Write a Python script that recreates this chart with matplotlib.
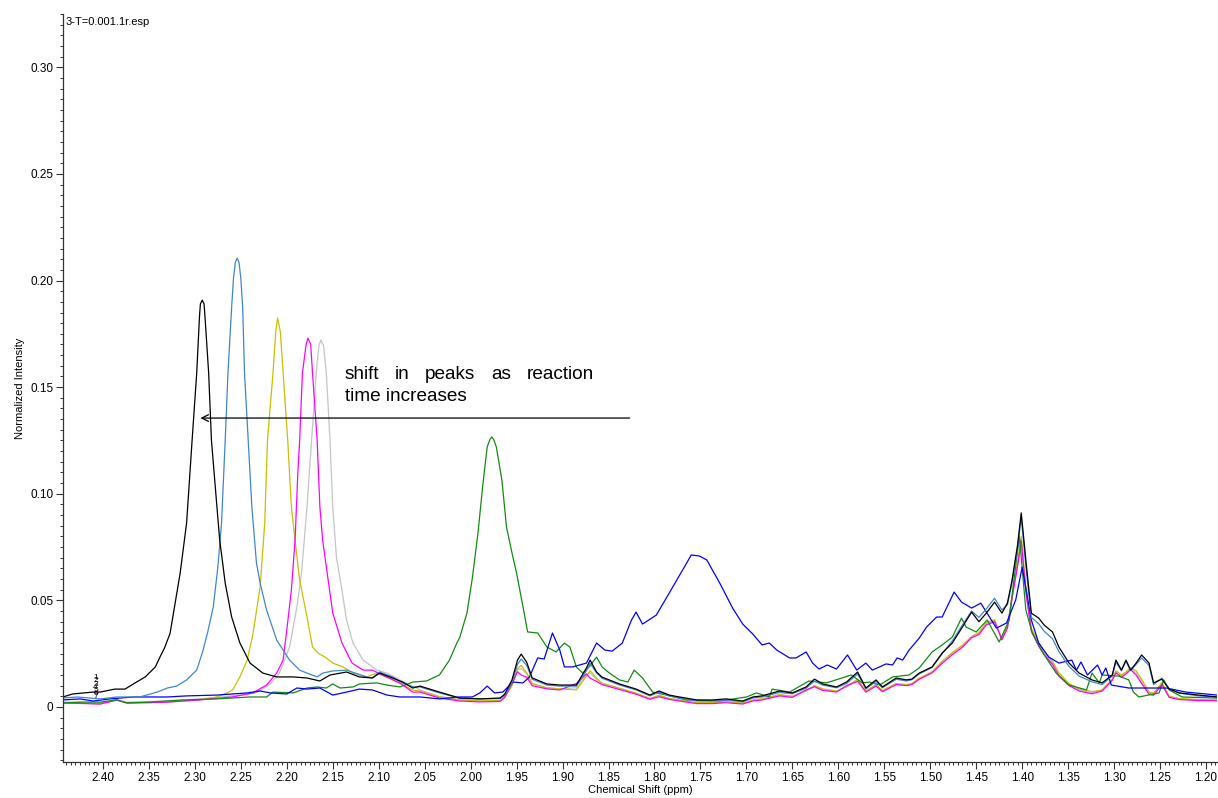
import matplotlib
matplotlib.use("Agg")
import matplotlib.pyplot as plt
from matplotlib.ticker import MultipleLocator, FuncFormatter

plt.rcParams['font.family'] = ['Liberation Sans', 'DejaVu Sans']

# --- spectra (ppm, normalized intensity) ---
# the five samples with the shifting peak share one grid below 2.06 ppm
tail_ppm = [2.055, 2.034, 2.012, 1.990, 1.968, 1.963, 1.955, 1.949, 1.945, 1.939,
            1.933, 1.917, 1.903, 1.885, 1.874, 1.870, 1.863, 1.857, 1.838, 1.820,
            1.805, 1.795, 1.784, 1.773, 1.754, 1.737, 1.722, 1.704, 1.693, 1.683,
            1.664, 1.650, 1.635, 1.626, 1.617, 1.602, 1.591, 1.579, 1.570, 1.559,
            1.552, 1.537, 1.526, 1.520, 1.512, 1.498, 1.487, 1.476, 1.465, 1.455,
            1.447, 1.439, 1.430, 1.422, 1.416, 1.411, 1.405, 1.401, 1.396, 1.390,
            1.382, 1.376, 1.367, 1.360, 1.349, 1.338, 1.324, 1.313, 1.302, 1.298,
            1.292, 1.287, 1.282, 1.276, 1.270, 1.262, 1.257, 1.248, 1.240, 1.229,
            1.208, 1.188]

black_head_ppm = [2.4435, 2.433, 2.411, 2.403, 2.387, 2.376, 2.365, 2.354, 2.343, 2.338,
                  2.333, 2.327, 2.316, 2.309, 2.303, 2.298, 2.295, 2.294, 2.292, 2.290,
                  2.289, 2.285, 2.282, 2.276, 2.273, 2.267, 2.260, 2.251, 2.240, 2.226,
                  2.211, 2.193, 2.178, 2.164, 2.153, 2.135, 2.121, 2.107, 2.099, 2.085,
                  2.074, 2.063]
black_head = [0.0047, 0.0061, 0.0070, 0.0070, 0.0084, 0.0084, 0.0113, 0.0141, 0.0188, 0.0234,
              0.0277, 0.0345, 0.0628, 0.0863, 0.1252, 0.1566, 0.1830, 0.1890, 0.1908, 0.1890,
              0.1830, 0.1566, 0.1252, 0.0938, 0.0783, 0.0581, 0.0422, 0.0300, 0.0206, 0.0159,
              0.0141, 0.0141, 0.0136, 0.0122, 0.0150, 0.0164, 0.0141, 0.0136, 0.0159, 0.0136,
              0.0117, 0.0089]
black_tail = [0.0098, 0.0070, 0.0042, 0.0038, 0.0042, 0.0060, 0.0127, 0.0220, 0.0248, 0.0210,
              0.0136, 0.0108, 0.0103, 0.0103, 0.0183, 0.0220, 0.0164, 0.0140, 0.0108, 0.0084,
              0.0056, 0.0075, 0.0056, 0.0047, 0.0033, 0.0033, 0.0038, 0.0028, 0.0047, 0.0052,
              0.0075, 0.0066, 0.0094, 0.0131, 0.0108, 0.0094, 0.0117, 0.0164, 0.0089, 0.0127,
              0.0094, 0.0136, 0.0127, 0.0131, 0.0159, 0.0188, 0.0253, 0.0300, 0.0375, 0.0445,
              0.0400, 0.0440, 0.0492, 0.0440, 0.0488, 0.0595, 0.0760, 0.0910, 0.0690, 0.0440,
              0.0417, 0.0384, 0.0352, 0.0281, 0.0206, 0.0159, 0.0127, 0.0113, 0.0150, 0.0220,
              0.0173, 0.0220, 0.0173, 0.0206, 0.0244, 0.0206, 0.0113, 0.0131, 0.0084, 0.0066,
              0.0056, 0.0047]

steel_head_ppm = [2.4435, 2.428, 2.403, 2.385, 2.360, 2.341, 2.330, 2.320, 2.309, 2.298,
                  2.291, 2.286, 2.280, 2.275, 2.271, 2.267, 2.264, 2.260, 2.258, 2.256,
                  2.254, 2.252, 2.250, 2.248, 2.246, 2.242, 2.238, 2.233, 2.229, 2.222,
                  2.211, 2.197, 2.186, 2.178, 2.167, 2.161, 2.150, 2.135, 2.113, 2.107,
                  2.099, 2.085, 2.074, 2.063]
steel_head = [0.0042, 0.0047, 0.0038, 0.0047, 0.0047, 0.0070, 0.0089, 0.0098, 0.0127, 0.0173,
              0.0267, 0.0352, 0.0469, 0.0656, 0.0863, 0.1252, 0.1566, 0.1875, 0.2010, 0.2085,
              0.2105, 0.2085, 0.2010, 0.1875, 0.1566, 0.1252, 0.0938, 0.0675, 0.0581, 0.0455,
              0.0314, 0.0220, 0.0173, 0.0159, 0.0141, 0.0159, 0.0169, 0.0173, 0.0141, 0.0136,
              0.0164, 0.0141, 0.0113, 0.0094]
steel_tail = [0.0094, 0.0066, 0.0042, 0.0038, 0.0040, 0.0055, 0.0115, 0.0200, 0.0225, 0.0195,
              0.0130, 0.0103, 0.0098, 0.0098, 0.0170, 0.0205, 0.0160, 0.0135, 0.0103, 0.0080,
              0.0052, 0.0070, 0.0052, 0.0042, 0.0028, 0.0028, 0.0033, 0.0024, 0.0042, 0.0047,
              0.0068, 0.0062, 0.0088, 0.0122, 0.0103, 0.0090, 0.0110, 0.0155, 0.0085, 0.0120,
              0.0090, 0.0130, 0.0122, 0.0128, 0.0155, 0.0185, 0.0250, 0.0310, 0.0385, 0.0450,
              0.0420, 0.0460, 0.0510, 0.0455, 0.0480, 0.0580, 0.0740, 0.0890, 0.0660, 0.0420,
              0.0390, 0.0355, 0.0320, 0.0260, 0.0190, 0.0145, 0.0118, 0.0105, 0.0145, 0.0210,
              0.0170, 0.0215, 0.0170, 0.0200, 0.0230, 0.0195, 0.0105, 0.0135, 0.0085, 0.0065,
              0.0052, 0.0047]

yellow_head_ppm = [2.4435, 2.428, 2.403, 2.385, 2.374, 2.349, 2.330, 2.295, 2.276, 2.265,
                   2.259, 2.251, 2.243, 2.237, 2.229, 2.224, 2.221, 2.215, 2.212, 2.210,
                   2.207, 2.204, 2.199, 2.195, 2.191, 2.186, 2.178, 2.172, 2.166, 2.157,
                   2.150, 2.139, 2.128, 2.113, 2.102, 2.085, 2.063]
yellow_head = [0.0019, 0.0019, 0.0014, 0.0033, 0.0019, 0.0019, 0.0023, 0.0033, 0.0047, 0.0066,
               0.0080, 0.0141, 0.0220, 0.0338, 0.0563, 0.0863, 0.1252, 0.1566, 0.1760, 0.1824,
               0.1760, 0.1566, 0.1252, 0.0938, 0.0783, 0.0595, 0.0422, 0.0281, 0.0253, 0.0230,
               0.0206, 0.0188, 0.0159, 0.0141, 0.0159, 0.0127, 0.0080]
yellow_tail = [0.0075, 0.0047, 0.0033, 0.0028, 0.0030, 0.0045, 0.0100, 0.0180, 0.0195, 0.0160,
               0.0110, 0.0090, 0.0085, 0.0080, 0.0145, 0.0170, 0.0135, 0.0112, 0.0088, 0.0065,
               0.0040, 0.0055, 0.0040, 0.0033, 0.0020, 0.0020, 0.0025, 0.0018, 0.0033, 0.0038,
               0.0058, 0.0050, 0.0075, 0.0100, 0.0085, 0.0075, 0.0095, 0.0130, 0.0075, 0.0105,
               0.0078, 0.0110, 0.0105, 0.0110, 0.0135, 0.0165, 0.0215, 0.0255, 0.0290, 0.0330,
               0.0350, 0.0395, 0.0410, 0.0320, 0.0380, 0.0520, 0.0680, 0.0800, 0.0560, 0.0370,
               0.0300, 0.0260, 0.0215, 0.0160, 0.0110, 0.0085, 0.0072, 0.0080, 0.0130, 0.0170,
               0.0150, 0.0165, 0.0185, 0.0170, 0.0130, 0.0070, 0.0065, 0.0115, 0.0050, 0.0040,
               0.0035, 0.0033]

magenta_head_ppm = [2.4435, 2.403, 2.385, 2.374, 2.330, 2.295, 2.259, 2.237, 2.222, 2.211,
                    2.204, 2.200, 2.195, 2.191, 2.188, 2.186, 2.183, 2.179, 2.177, 2.174,
                    2.172, 2.167, 2.164, 2.161, 2.155, 2.150, 2.140, 2.129, 2.117, 2.107,
                    2.096, 2.077, 2.063]
magenta_head = [0.0019, 0.0014, 0.0033, 0.0019, 0.0023, 0.0033, 0.0047, 0.0066, 0.0103, 0.0159,
                0.0220, 0.0361, 0.0549, 0.0783, 0.1097, 0.1252, 0.1566, 0.1700, 0.1730, 0.1700,
                0.1566, 0.1252, 0.0938, 0.0783, 0.0595, 0.0441, 0.0300, 0.0206, 0.0173, 0.0173,
                0.0150, 0.0113, 0.0070]
magenta_tail = [0.0070, 0.0042, 0.0028, 0.0024, 0.0026, 0.0045, 0.0110, 0.0165, 0.0150, 0.0140,
                0.0100, 0.0085, 0.0080, 0.0110, 0.0155, 0.0135, 0.0120, 0.0105, 0.0082, 0.0060,
                0.0036, 0.0048, 0.0036, 0.0028, 0.0016, 0.0016, 0.0020, 0.0014, 0.0028, 0.0033,
                0.0052, 0.0045, 0.0080, 0.0095, 0.0078, 0.0070, 0.0100, 0.0120, 0.0070, 0.0098,
                0.0072, 0.0105, 0.0100, 0.0105, 0.0130, 0.0160, 0.0205, 0.0245, 0.0280, 0.0325,
                0.0340, 0.0385, 0.0400, 0.0315, 0.0370, 0.0510, 0.0660, 0.0780, 0.0540, 0.0355,
                0.0285, 0.0245, 0.0200, 0.0145, 0.0100, 0.0075, 0.0062, 0.0075, 0.0125, 0.0160,
                0.0140, 0.0155, 0.0175, 0.0150, 0.0110, 0.0060, 0.0055, 0.0105, 0.0045, 0.0035,
                0.0030, 0.0030]

gray_head_ppm = [2.4435, 2.403, 2.385, 2.374, 2.330, 2.295, 2.259, 2.233, 2.218, 2.208,
                 2.197, 2.189, 2.184, 2.178, 2.173, 2.168, 2.165, 2.163, 2.160, 2.157,
                 2.153, 2.150, 2.146, 2.140, 2.135, 2.128, 2.117, 2.102, 2.091, 2.077,
                 2.059]
gray_head = [0.0023, 0.0019, 0.0033, 0.0023, 0.0028, 0.0038, 0.0052, 0.0066, 0.0108, 0.0159,
             0.0281, 0.0469, 0.0628, 0.0938, 0.1252, 0.1566, 0.1695, 0.1721, 0.1695, 0.1566,
             0.1252, 0.0938, 0.0703, 0.0549, 0.0408, 0.0300, 0.0220, 0.0173, 0.0159, 0.0127,
             0.0089]
gray_tail = [0.0080, 0.0050, 0.0035, 0.0030, 0.0032, 0.0048, 0.0105, 0.0175, 0.0180, 0.0155,
             0.0108, 0.0090, 0.0085, 0.0090, 0.0150, 0.0160, 0.0130, 0.0110, 0.0088, 0.0064,
             0.0040, 0.0052, 0.0040, 0.0032, 0.0020, 0.0020, 0.0024, 0.0018, 0.0032, 0.0036,
             0.0056, 0.0050, 0.0078, 0.0098, 0.0082, 0.0074, 0.0098, 0.0125, 0.0074, 0.0102,
             0.0076, 0.0108, 0.0104, 0.0108, 0.0132, 0.0162, 0.0210, 0.0250, 0.0285, 0.0328,
             0.0345, 0.0390, 0.0405, 0.0318, 0.0375, 0.0515, 0.0665, 0.0770, 0.0550, 0.0362,
             0.0292, 0.0252, 0.0208, 0.0152, 0.0105, 0.0080, 0.0068, 0.0078, 0.0128, 0.0165,
             0.0145, 0.0160, 0.0180, 0.0160, 0.0120, 0.0065, 0.0060, 0.0110, 0.0048, 0.0038,
             0.0033, 0.0032]

green_ppm = [2.4435, 2.425, 2.403, 2.385, 2.374, 2.349, 2.313, 2.276, 2.240, 2.222,
             2.215, 2.193, 2.178, 2.167, 2.157, 2.150, 2.142, 2.128, 2.121, 2.102,
             2.091, 2.077, 2.063, 2.048, 2.034, 2.023, 2.015, 2.012, 2.004, 1.998,
             1.992, 1.987, 1.982, 1.979, 1.977, 1.975, 1.972, 1.966, 1.961, 1.955,
             1.950, 1.943, 1.938, 1.927, 1.917, 1.907, 1.898, 1.892, 1.885, 1.878,
             1.871, 1.863, 1.857, 1.849, 1.838, 1.829, 1.822, 1.813, 1.802, 1.787,
             1.765, 1.729, 1.700, 1.689, 1.675, 1.672, 1.653, 1.632, 1.613, 1.596,
             1.586, 1.574, 1.566, 1.555, 1.541, 1.523, 1.512, 1.498, 1.487, 1.476,
             1.466, 1.461, 1.450, 1.438, 1.425, 1.414, 1.409, 1.403, 1.396, 1.389,
             1.378, 1.363, 1.349, 1.330, 1.324, 1.316, 1.313, 1.295, 1.284, 1.279,
             1.273, 1.251, 1.246, 1.240, 1.226, 1.188]
green_int = [0.0019, 0.0023, 0.0023, 0.0033, 0.0019, 0.0023, 0.0033, 0.0038, 0.0047, 0.0047,
             0.0070, 0.0066, 0.0089, 0.0094, 0.0089, 0.0108, 0.0089, 0.0094, 0.0108, 0.0113,
             0.0103, 0.0094, 0.0117, 0.0122, 0.0150, 0.0220, 0.0300, 0.0324, 0.0441, 0.0609,
             0.0816, 0.1031, 0.1219, 0.1255, 0.1266, 0.1255, 0.1219, 0.1064, 0.0844, 0.0722,
             0.0628, 0.0469, 0.0352, 0.0347, 0.0281, 0.0258, 0.0300, 0.0281, 0.0188, 0.0159,
             0.0188, 0.0234, 0.0188, 0.0159, 0.0127, 0.0117, 0.0173, 0.0136, 0.0070, 0.0056,
             0.0033, 0.0028, 0.0047, 0.0066, 0.0047, 0.0084, 0.0070, 0.0122, 0.0113, 0.0136,
             0.0150, 0.0113, 0.0117, 0.0103, 0.0141, 0.0150, 0.0183, 0.0258, 0.0291, 0.0328,
             0.0417, 0.0375, 0.0352, 0.0408, 0.0305, 0.0408, 0.0595, 0.0800, 0.0455, 0.0347,
             0.0258, 0.0159, 0.0103, 0.0080, 0.0159, 0.0113, 0.0150, 0.0145, 0.0127, 0.0070,
             0.0047, 0.0066, 0.0127, 0.0080, 0.0047, 0.0042]

blue_ppm = [2.4435, 2.425, 2.411, 2.392, 2.367, 2.330, 2.309, 2.276, 2.243, 2.229,
            2.218, 2.200, 2.189, 2.178, 2.164, 2.150, 2.135, 2.121, 2.107, 2.091,
            2.077, 2.055, 2.034, 2.012, 1.998, 1.990, 1.982, 1.974, 1.965, 1.954,
            1.943, 1.936, 1.927, 1.920, 1.911, 1.903, 1.898, 1.889, 1.874, 1.863,
            1.854, 1.846, 1.835, 1.825, 1.820, 1.813, 1.798, 1.784, 1.765, 1.760,
            1.751, 1.743, 1.729, 1.715, 1.704, 1.693, 1.683, 1.675, 1.667, 1.653,
            1.646, 1.635, 1.628, 1.621, 1.612, 1.602, 1.590, 1.580, 1.570, 1.563,
            1.548, 1.541, 1.536, 1.530, 1.523, 1.512, 1.504, 1.493, 1.487, 1.474,
            1.466, 1.455, 1.445, 1.428, 1.417, 1.407, 1.400, 1.395, 1.390, 1.382,
            1.371, 1.360, 1.346, 1.341, 1.336, 1.329, 1.318, 1.313, 1.309, 1.303,
            1.284, 1.259, 1.243, 1.222, 1.188]
blue_int = [0.0033, 0.0038, 0.0028, 0.0038, 0.0047, 0.0047, 0.0052, 0.0056, 0.0066, 0.0075,
            0.0066, 0.0061, 0.0089, 0.0084, 0.0089, 0.0056, 0.0070, 0.0084, 0.0080, 0.0056,
            0.0047, 0.0047, 0.0038, 0.0047, 0.0047, 0.0066, 0.0098, 0.0066, 0.0070, 0.0117,
            0.0113, 0.0141, 0.0230, 0.0225, 0.0347, 0.0267, 0.0188, 0.0188, 0.0206, 0.0300,
            0.0267, 0.0262, 0.0300, 0.0408, 0.0445, 0.0389, 0.0431, 0.0534, 0.0675, 0.0713,
            0.0708, 0.0689, 0.0581, 0.0464, 0.0389, 0.0342, 0.0291, 0.0300, 0.0267, 0.0230,
            0.0230, 0.0258, 0.0206, 0.0178, 0.0197, 0.0178, 0.0244, 0.0173, 0.0206, 0.0173,
            0.0202, 0.0197, 0.0230, 0.0220, 0.0267, 0.0323, 0.0375, 0.0422, 0.0422, 0.0539,
            0.0492, 0.0464, 0.0487, 0.0370, 0.0394, 0.0502, 0.0656, 0.0534, 0.0408, 0.0300,
            0.0234, 0.0206, 0.0220, 0.0173, 0.0211, 0.0150, 0.0197, 0.0150, 0.0183, 0.0103,
            0.0089, 0.0089, 0.0089, 0.0070, 0.0056]

# integration labels stacked at the left edge
label_ids = ['1', '2', '3', '4', '5', '6', '7']

# note text, one entry per word so the first line is justified
note_words = ['shift', 'in', 'peaks', 'as', 'reaction']
note_word_ppm = [2.137, 2.0823, 2.0497, 1.9777, 1.9393]
note_line2 = 'time increases'

fig = plt.figure(figsize=(12.18, 7.98), dpi=100)
ax = fig.add_axes([0.0517, 0.0451, 0.9475, 0.9374])

shifted = [
    (gray_head_ppm, gray_head, gray_tail, '#c4c4c4'),
    (yellow_head_ppm, yellow_head, yellow_tail, '#c8c000'),
    (magenta_head_ppm, magenta_head, magenta_tail, '#ff00ff'),
]
for hp, hi, ti, col in shifted:
    ax.plot(hp + tail_ppm, hi + ti, color=col, lw=0.9)

ax.plot(green_ppm, green_int, color='#138a13', lw=0.9)
ax.plot(blue_ppm, blue_int, color='#0000ff', lw=0.9)
ax.plot(steel_head_ppm + tail_ppm, steel_head + steel_tail, color='#3f86cf', lw=0.9)
ax.plot(black_head_ppm + tail_ppm, black_head + black_tail, color='black', lw=0.9)

# the seven overlapping integral numbers, drawn as one squeezed text block
ax.text(2.408, 0.0093, '\n'.join(label_ids), fontsize=6, ha='center', va='center',
        linespacing=0.22, color='black')

ax.set_xlim(2.4435, 1.188)
ax.set_ylim(-0.0258, 0.325)

ax.xaxis.set_major_locator(MultipleLocator(0.05))
ax.xaxis.set_minor_locator(MultipleLocator(0.005))
ax.yaxis.set_major_locator(MultipleLocator(0.05))
ax.yaxis.set_minor_locator(MultipleLocator(0.005))
ax.xaxis.set_major_formatter(FuncFormatter(lambda v, p: '%.2f' % v))
ax.yaxis.set_major_formatter(FuncFormatter(lambda v, p: '0' if abs(v) < 1e-9 else '%.2f' % v))

ax.tick_params(which='major', direction='out', length=5, width=0.8, labelsize=8.5,
               color='#333333', pad=2)
ax.tick_params(which='minor', direction='out', length=2.5, width=0.7, color='#333333')
for side in ['top', 'right']:
    ax.spines[side].set_visible(False)
for side in ['left', 'bottom']:
    ax.spines[side].set_color('#333333')
    ax.spines[side].set_linewidth(0.9)

ax.set_xlabel('Chemical Shift (ppm)', fontsize=8, labelpad=1)
ax.set_ylabel('Normalized Intensity', fontsize=8, labelpad=4)

ax.text(0.002, 0.996, '3-T=0.001.1r.esp', transform=ax.transAxes, fontsize=8,
        ha='left', va='top')

# note about the peak drifting with reaction time
for word, pos in zip(note_words, note_word_ppm):
    ax.text(pos, 0.1561, word, fontsize=13.7, ha='left', va='center')
ax.text(note_word_ppm[0], 0.1458, note_line2, fontsize=13.7, ha='left', va='center')
ax.annotate('', xy=(2.294, 0.1355), xytext=(1.827, 0.1355),
            arrowprops=dict(arrowstyle='->', lw=0.9, color='black',
                            shrinkA=0, shrinkB=0, mutation_scale=12))

fig.savefig('out.png', dpi=100)
